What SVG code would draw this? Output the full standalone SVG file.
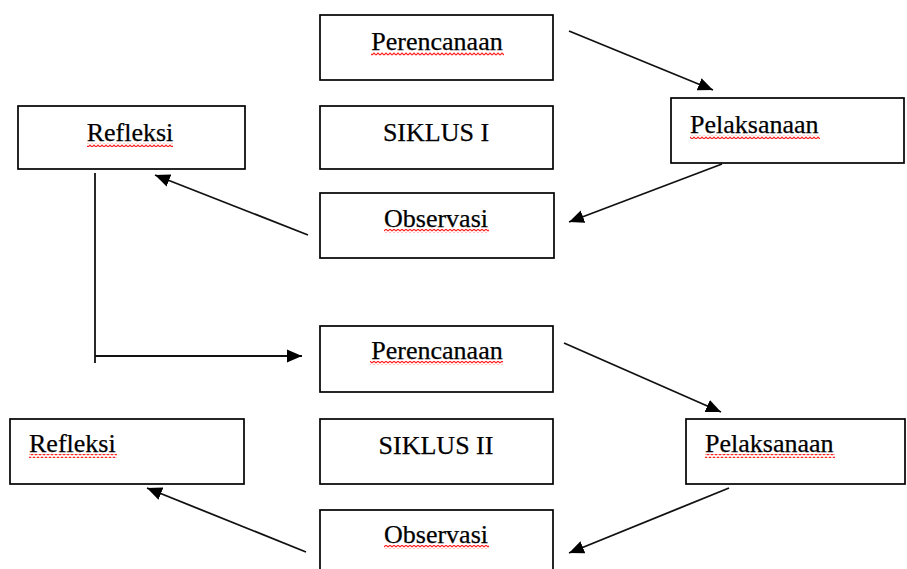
<svg xmlns="http://www.w3.org/2000/svg" width="907" height="569" viewBox="0 0 907 569">
<style>
.box{fill:#fff;stroke:#000;stroke-width:1.7}
.t{font-family:"Liberation Serif","Times New Roman",serif;font-size:26px;fill:#000;stroke:#000;stroke-width:0.25}
.c{text-anchor:middle}
.ln{stroke:#111;stroke-width:1.8;fill:none}
.arr{stroke:#111;stroke-width:1.8;fill:none;marker-end:url(#ah)}
.sq{fill:url(#wave)}
</style>
<defs>
<marker id="ah" markerUnits="userSpaceOnUse" markerWidth="16" markerHeight="14" refX="15" refY="6.5" orient="auto" viewBox="0 0 16 13">
<path d="M0,0 L15,6.5 L0,13 z" fill="#000"/>
</marker>
<pattern id="wave" patternUnits="userSpaceOnUse" width="4" height="4">
<path d="M0,3 L2,1 L4,3" fill="none" stroke="#ff2020" stroke-width="1.2"/>
</pattern>
</defs>
<g id="connectors">
<line class="arr" x1="569" y1="31" x2="713" y2="90"/>
<line class="arr" x1="722" y1="164" x2="569" y2="222"/>
<line class="arr" x1="308" y1="235" x2="155" y2="175"/>
<polyline class="ln" points="95,173 95,363"/>
<line class="arr" x1="95" y1="356" x2="302" y2="356"/>
<line class="arr" x1="564" y1="343" x2="721" y2="412"/>
<line class="arr" x1="729" y1="488" x2="569" y2="553"/>
<line class="arr" x1="306" y1="552" x2="147" y2="488"/>
</g>
<g id="perencanaan1">
<rect class="box" x="320" y="15" width="233" height="65"/>
<text class="t c" x="437" y="50">Perencanaan</text>
<rect class="sq" x="371" y="52" width="133" height="4"/>
</g>
<g id="siklus1">
<rect class="box" x="320" y="106" width="233" height="63"/>
<text class="t c" x="436" y="141">SIKLUS I</text>
</g>
<g id="pelaksanaan1">
<rect class="box" x="671" y="98" width="233" height="65"/>
<text class="t" x="690" y="133">Pelaksanaan</text>
<rect class="sq" x="690" y="135" width="130" height="4"/>
</g>
<g id="observasi1">
<rect class="box" x="320" y="193" width="234" height="65"/>
<text class="t c" x="436" y="227">Observasi</text>
<rect class="sq" x="384" y="229" width="105" height="4"/>
</g>
<g id="refleksi1">
<rect class="box" x="18" y="106" width="227" height="63"/>
<text class="t c" x="130" y="141">Refleksi</text>
<rect class="sq" x="87" y="143" width="86" height="4"/>
</g>
<g id="perencanaan2">
<rect class="box" x="320" y="326" width="233" height="66"/>
<text class="t c" x="437" y="359">Perencanaan</text>
<rect class="sq" x="370" y="361" width="133" height="4"/>
</g>
<g id="siklus2">
<rect class="box" x="320" y="419" width="233" height="65"/>
<text class="t c" x="436" y="454">SIKLUS II</text>
</g>
<g id="pelaksanaan2">
<rect class="box" x="686" y="419" width="219" height="65"/>
<text class="t" x="705" y="452">Pelaksanaan</text>
<rect class="sq" x="705" y="454" width="130" height="4"/>
</g>
<g id="observasi2">
<rect class="box" x="320" y="510" width="233" height="70"/>
<text class="t c" x="436" y="543">Observasi</text>
<rect class="sq" x="384" y="545" width="105" height="4"/>
</g>
<g id="refleksi2">
<rect class="box" x="10" y="419" width="234" height="65"/>
<text class="t" x="29" y="452">Refleksi</text>
<rect class="sq" x="29" y="454" width="88" height="4"/>
</g>
</svg>
